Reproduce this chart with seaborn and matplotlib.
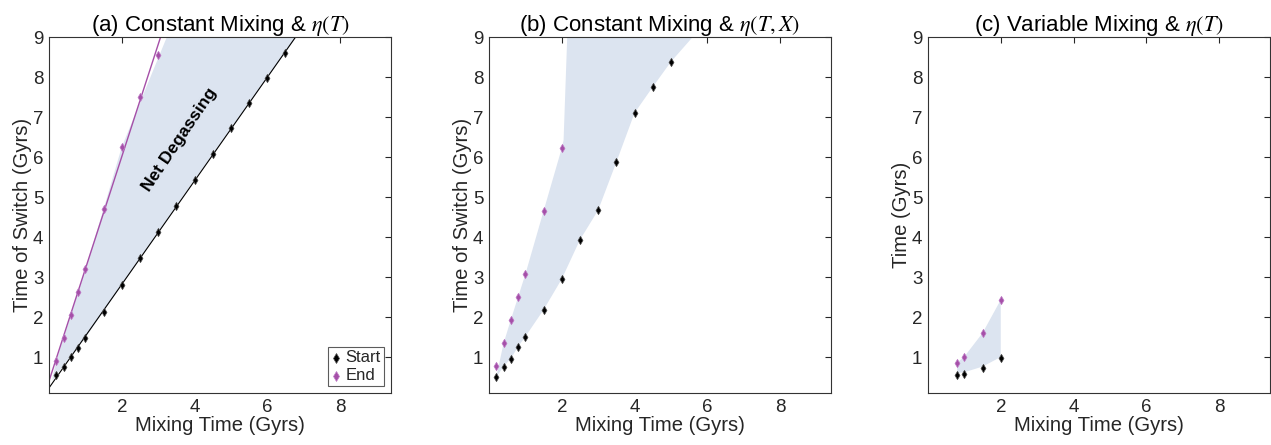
import numpy as np
import pandas as pd
import matplotlib
matplotlib.use("Agg")
import matplotlib.pyplot as plt
import seaborn as sns

# ---------------- data ----------------
# (a) Constant Mixing & eta(T)
a_start_x = [0.2, 0.4, 0.6, 0.8, 1.0, 1.5, 2.0, 2.5, 3.0, 3.5, 4.0, 4.5, 5.0, 5.5, 6.0, 6.5]
a_start_y = [0.55, 0.75, 1.0, 1.22, 1.48, 2.13, 2.8, 3.47, 4.13, 4.78, 5.43, 6.07, 6.72, 7.35, 7.98, 8.6]
a_end_x = [0.2, 0.4, 0.6, 0.8, 1.0, 1.5, 2.0, 2.5, 3.0]
a_end_y = [0.9, 1.47, 2.05, 2.62, 3.2, 4.7, 6.25, 7.5, 8.55]
a_fill_upper_x = [0.1, 0.2, 0.4, 0.6, 0.8, 1.0, 1.5, 2.0, 3.24]
a_fill_upper_y = [0.5, 0.9, 1.47, 2.05, 2.62, 3.2, 4.7, 6.25, 9.0]
a_fill_lower_x = [0.1, 0.2, 1.0, 2.0, 4.0, 6.0, 6.8]
a_fill_lower_y = [0.4, 0.55, 1.48, 2.8, 5.43, 7.98, 9.0]

# (b) Constant Mixing & eta(T, X)
b_start_x = [0.2, 0.4, 0.6, 0.8, 1.0, 1.5, 2.0, 2.5, 3.0, 3.5, 4.0, 4.5, 5.0]
b_start_y = [0.5, 0.76, 0.96, 1.26, 1.51, 2.18, 2.95, 3.93, 4.67, 5.87, 7.1, 7.75, 8.38]
b_end_x = [0.2, 0.4, 0.6, 0.8, 1.0, 1.5, 2.0]
b_end_y = [0.78, 1.34, 1.93, 2.5, 3.07, 4.65, 6.22]
b_fill_upper_x = [0.2, 0.4, 0.6, 0.8, 1.0, 1.5, 2.0, 2.05, 2.15]
b_fill_upper_y = [0.5, 1.34, 1.93, 2.5, 3.07, 4.65, 6.22, 6.42, 9.0]
b_fill_lower_x = [0.2, 0.4, 0.6, 0.8, 1.0, 1.5, 2.0, 2.5, 3.0, 3.5, 4.0, 4.5, 5.0, 5.6]
b_fill_lower_y = [0.5, 0.76, 0.96, 1.26, 1.51, 2.18, 2.95, 3.93, 4.67, 5.87, 7.1, 7.75, 8.38, 9.0]

# (c) Variable Mixing & eta(T)
c_start_x = [0.8, 1.0, 1.5, 2.0]
c_start_y = [0.54, 0.58, 0.73, 0.98]
c_end_x = [0.8, 1.0, 1.5, 2.0]
c_end_y = [0.86, 1.01, 1.6, 2.43]
c_fill_upper_x = [0.8, 0.8, 1.0, 1.5, 2.0]
c_fill_upper_y = [0.6, 0.86, 1.01, 1.6, 2.43]
c_fill_lower_x = [0.8, 1.0, 1.5, 2.0]
c_fill_lower_y = [0.6, 0.62, 0.76, 1.0]

titles = [r"(a) Constant Mixing & $\eta(T)$",
          r"(b) Constant Mixing & $\eta(T,X)$",
          r"(c) Variable Mixing & $\eta(T)$"]
ylabels = ["Time of Switch (Gyrs)", "Time of Switch (Gyrs)", "Time (Gyrs)"]
xlabel = "Mixing Time (Gyrs)"
xticks = [2, 4, 6, 8]
yticks = [1, 2, 3, 4, 5, 6, 7, 8, 9]

# ---------------- style ----------------
sns.set_theme(style="white")
plt.rcParams["font.family"] = ["Liberation Sans", "DejaVu Sans"]
plt.rcParams["mathtext.fontset"] = "stix"

PURPLE = "#A54FA8"
BLACK = "#000000"
FILL = "#DCE4F0"
AXC = "#262626"

fig = plt.figure(figsize=(12.71, 4.45), dpi=100)
lefts = [49 / 1271, 489 / 1271, 928 / 1271]
width = 342 / 1271
bottom = 1 - 393 / 445
height = 356 / 445

panels = [
    (a_start_x, a_start_y, a_end_x, a_end_y, a_fill_upper_x, a_fill_upper_y, a_fill_lower_x, a_fill_lower_y),
    (b_start_x, b_start_y, b_end_x, b_end_y, b_fill_upper_x, b_fill_upper_y, b_fill_lower_x, b_fill_lower_y),
    (c_start_x, c_start_y, c_end_x, c_end_y, c_fill_upper_x, c_fill_upper_y, c_fill_lower_x, c_fill_lower_y),
]

for i, (sx, sy, ex, ey, fux, fuy, flx, fly) in enumerate(panels):
    ax = fig.add_axes([lefts[i], bottom, width, height])
    # shaded region
    px = list(fux) + list(flx)[::-1]
    py = list(fuy) + list(fly)[::-1]
    ax.fill(px, py, color=FILL, lw=0, zorder=1)

    if i == 0:
        # linear fits of the start and end points
        xx = np.array([0.0, 9.4])
        ps = np.polyfit(sx, sy, 1)
        pe = np.polyfit(ex, ey, 1)
        sns.lineplot(x=xx, y=np.polyval(ps, xx), color=BLACK, lw=0.8, ax=ax, zorder=2)
        sns.lineplot(x=xx, y=np.polyval(pe, xx), color=PURPLE, lw=1.0, ax=ax, zorder=2)
        ax.text(3.6, 6.43, "Net Degassing", rotation=56, fontsize=12.5, fontweight="bold",
                ha="center", va="center", color="black", zorder=4)

    df_s = pd.DataFrame({"x": sx, "y": sy})
    df_e = pd.DataFrame({"x": ex, "y": ey})
    sns.scatterplot(data=df_s, x="x", y="y", marker="d", s=18, color=BLACK,
                    edgecolor="#555555", linewidth=0.5, ax=ax, zorder=3, label="Start")
    sns.scatterplot(data=df_e, x="x", y="y", marker="d", s=18, color=PURPLE,
                    edgecolor="#C080C8", linewidth=0.5, ax=ax, zorder=3, label="End")

    ax.set_xlim(0, 9.4)
    ax.set_ylim(0.1, 9)
    ax.set_xticks(xticks)
    ax.set_yticks(yticks)
    ax.tick_params(direction="in", length=4, width=0.8, top=True, right=True,
                   labelsize=13.5, colors=AXC, pad=4)
    for sp in ax.spines.values():
        sp.set_visible(True)
        sp.set_color("#333333")
        sp.set_linewidth(0.8)
    ax.set_xlabel(xlabel, fontsize=14.6, color=AXC, labelpad=0)
    ax.set_ylabel(ylabels[i], fontsize=14.6, color=AXC, labelpad=1)
    ax.set_title(titles[i], fontsize=16, color="black", pad=4)
    ax.grid(False)

    if i == 0:
        leg = ax.legend(loc="lower right", fontsize=12, frameon=True, fancybox=False,
                        handlelength=0.5, handletextpad=0.35, borderpad=0.2,
                        labelspacing=0.15, borderaxespad=0.4, markerscale=1.2)
        leg.get_frame().set_edgecolor("#333333")
        leg.get_frame().set_linewidth(0.8)
    else:
        ax.get_legend().remove()

fig.savefig("out.png", dpi=100)
